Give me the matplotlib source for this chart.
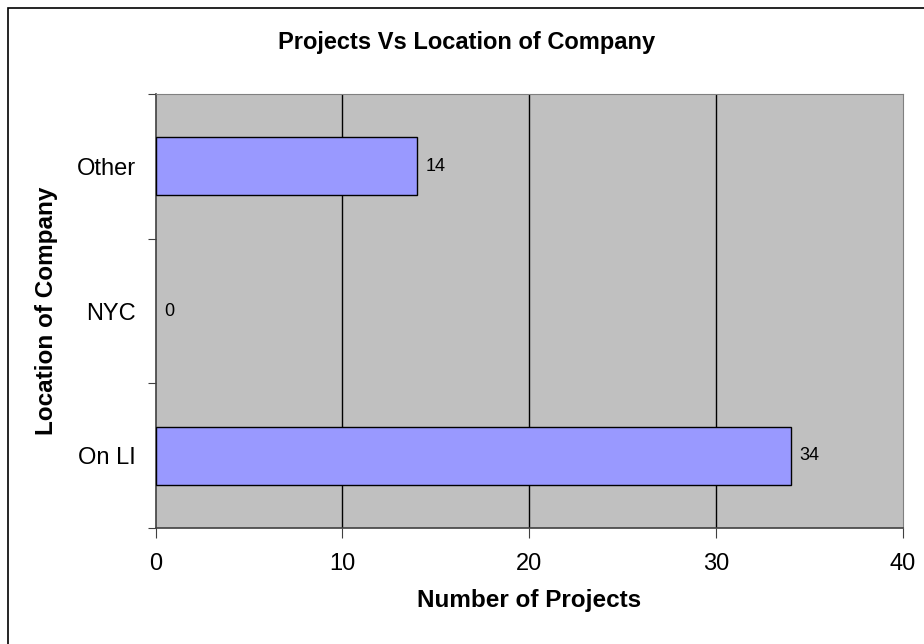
import matplotlib.pyplot as plt
from matplotlib.patches import Rectangle

plt.rcParams['font.family'] = ['Liberation Sans', 'DejaVu Sans']

locations = ["On LI", "NYC", "Other"]
projects = [34, 0, 14]
xticks = [0, 10, 20, 30, 40]

W, H = 924, 644
fig = plt.figure(figsize=(W / 100, H / 100), dpi=100)
ax = fig.add_axes([155.5 / W, 1 - 528 / H, (903 - 155.5) / W, (528 - 94) / H])

# chart border: only its left and top edges fall inside the picture
fig.patches.append(Rectangle((8 / W, -0.05), 1.1, 1 - 8 / H + 0.05,
                             transform=fig.transFigure, fill=False,
                             edgecolor='black', linewidth=1.2))

ax.set_facecolor('#C0C0C0')
pos = range(len(locations))
edges = ['black' if v > 0 else 'none' for v in projects]
ax.barh(pos, projects, height=0.4, color='#9999FF', edgecolor=edges, linewidth=1, zorder=3)
for y, v in zip(pos, projects):
    ax.annotate(str(v), (v, y), xytext=(6, 0), textcoords='offset points',
                va='center', ha='left', fontsize=13, zorder=4)

ax.set_xlim(0, 40)
ax.set_ylim(-0.5, 2.5)
ax.set_xticks(xticks)
ax.tick_params(axis='x', length=7, labelsize=17, pad=11, color='#404040')
ax.set_yticks([-0.5, 0.5, 1.5, 2.5])
ax.set_yticklabels([])
ax.set_yticks(list(pos), minor=True)
ax.set_yticklabels(locations, minor=True)
ax.tick_params(axis='y', which='major', length=6, color='#404040')
ax.tick_params(axis='y', which='minor', length=0, labelsize=17, pad=14)
for x in xticks[1:-1]:
    ax.axvline(x, color='black', linewidth=1, zorder=1)
for s in ['top', 'right']:
    ax.spines[s].set_color('#808080')
for s in ['left', 'bottom']:
    ax.spines[s].set_color('#404040')
    ax.spines[s].set_linewidth(1.2)

ax.set_xlabel("Number of Projects", fontsize=17.5, fontweight='bold')
ax.xaxis.set_label_coords(0.5, (528 - 589) / 434)
ax.set_ylabel("Location of Company", fontsize=17.5, fontweight='bold')
ax.yaxis.set_label_coords((58 - 155.5) / 747.5, 0.5)
fig.text(467 / W, 1 - 43 / H, "Projects Vs Location of Company", ha='center', va='center',
         fontsize=17, fontweight='bold')

fig.savefig("out.png", dpi=100)
